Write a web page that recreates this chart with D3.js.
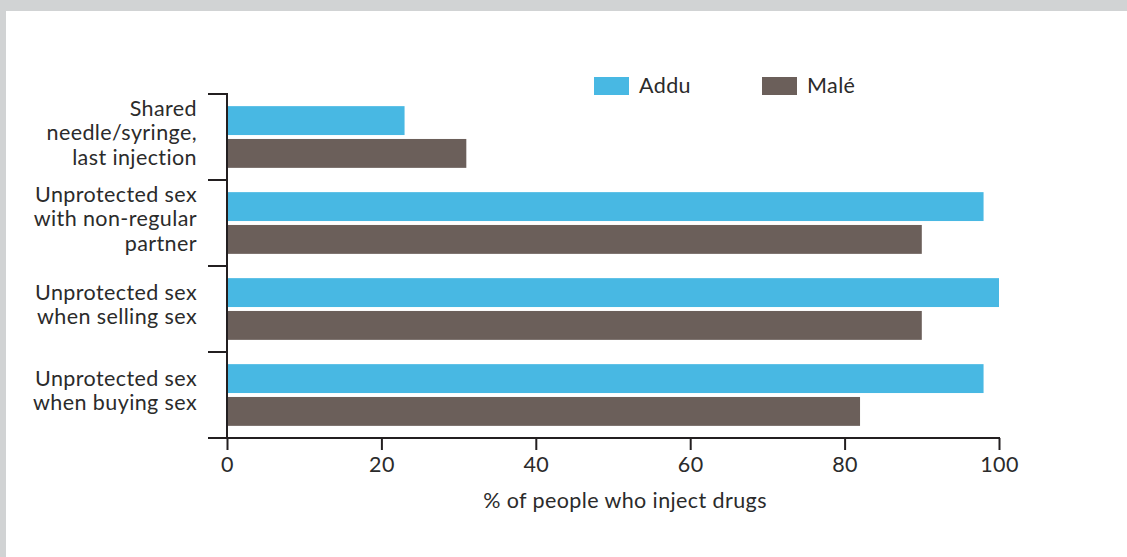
<!DOCTYPE html>
<html>
<head>
<meta charset="utf-8">
<script src="https://cdn.jsdelivr.net/npm/d3@7"></script>
<style>
  body { margin: 0; background: #d1d3d4; }
  svg { display: block; }
  text { font-family: Lato, "Open Sans", sans-serif; fill: #2b2b2b; letter-spacing: 0.4px; }
</style>
</head>
<body>
<div id="chart-container"></div>
<script>
const categories = [
  ["Shared", "needle/syringe,", "last injection"],
  ["Unprotected sex", "with non-regular", "partner"],
  ["Unprotected sex", "when selling sex"],
  ["Unprotected sex", "when buying sex"],
];
const seriesNames = ["Addu", "Malé"];
const addu = [23, 98, 100, 98];
const male = [31, 90, 90, 82];
const xTicks = [0, 20, 40, 60, 80, 100];
const colors = ["#48b8e3", "#6b5f5a"];

const width = 1127;
const height = 557;
const axisColor = "#231f20";
const fontSize = "21.5px";

const svg = d3
  .select("#chart-container")
  .append("svg")
  .attr("width", width)
  .attr("height", height);

// white panel over grey frame
svg
  .append("rect")
  .attr("x", 6)
  .attr("y", 11)
  .attr("width", width - 6)
  .attr("height", height - 11)
  .attr("fill", "#ffffff");

const xScale = d3.scaleLinear().domain([0, 100]).range([227, 999]);
const yScale = d3
  .scaleBand()
  .domain(d3.range(categories.length))
  .range([94, 438]);
const inner = d3
  .scaleBand()
  .domain([0, 1])
  .range([0, yScale.bandwidth()])
  .paddingInner(0.12)
  .paddingOuter(0.37);

const rows = categories.map((c, i) => ({ i, values: [addu[i], male[i]] }));

const groups = svg
  .selectAll(".group")
  .data(rows)
  .enter()
  .append("g")
  .attr("class", "group")
  .attr("transform", (d) => `translate(0,${yScale(d.i)})`);

groups
  .selectAll("rect")
  .data((d) => d.values.map((v, s) => ({ v, s })))
  .enter()
  .append("rect")
  .attr("x", xScale(0))
  .attr("y", (d) => inner(d.s))
  .attr("width", (d) => xScale(d.v) - xScale(0))
  .attr("height", inner.bandwidth())
  .attr("fill", (d) => colors[d.s]);

// x axis
const xAxis = d3
  .axisBottom(xScale)
  .tickValues(xTicks)
  .tickSize(12)
  .tickPadding(7)
  .tickFormat(d3.format("d"));

const xAxisGroup = svg
  .append("g")
  .attr("transform", `translate(0,438)`)
  .call(xAxis);
xAxisGroup.select(".domain").remove();
xAxisGroup.selectAll(".tick line").attr("stroke", axisColor).attr("stroke-width", 2);
xAxisGroup
  .selectAll(".tick text")
  .style("font-size", fontSize)
  .style("font-family", "Lato, 'Open Sans', sans-serif")
  .attr("fill", "#2b2b2b");

svg
  .append("line")
  .attr("x1", 208)
  .attr("x2", xScale(100) + 1)
  .attr("y1", 438)
  .attr("y2", 438)
  .attr("stroke", axisColor)
  .attr("stroke-width", 2);

// y axis with ticks between categories
const yEdges = d3.range(categories.length).map((i) => yScale(i)).concat([438]);
svg
  .append("line")
  .attr("x1", xScale(0))
  .attr("x2", xScale(0))
  .attr("y1", yEdges[0] - 1)
  .attr("y2", 438)
  .attr("stroke", axisColor)
  .attr("stroke-width", 2);

svg
  .selectAll(".ytick")
  .data(yEdges.slice(0, -1))
  .enter()
  .append("line")
  .attr("class", "ytick")
  .attr("x1", 208)
  .attr("x2", xScale(0))
  .attr("y1", (d) => d)
  .attr("y2", (d) => d)
  .attr("stroke", axisColor)
  .attr("stroke-width", 2);

// category labels
const labels = svg
  .selectAll(".cat")
  .data(categories)
  .enter()
  .append("text")
  .attr("class", "cat")
  .attr("text-anchor", "end")
  .style("font-size", fontSize)
  .attr("transform", (d, i) => {
    const mid = yScale(i) + yScale.bandwidth() / 2;
    const top = mid - ((d.length - 1) * 24.5) / 2 + 3;
    return `translate(197,${top})`;
  });

labels
  .selectAll("tspan")
  .data((d) => d)
  .enter()
  .append("tspan")
  .attr("x", 0)
  .attr("dy", (d, j) => (j === 0 ? 0 : 24.5))
  .text((d) => d);

// legend
const legend = svg
  .selectAll(".legend")
  .data(seriesNames)
  .enter()
  .append("g")
  .attr("class", "legend")
  .attr("transform", (d, i) => `translate(${594 + i * 168},77)`);

legend
  .append("rect")
  .attr("width", 35)
  .attr("height", 18)
  .attr("fill", (d, i) => colors[i]);

legend
  .append("text")
  .attr("x", 45)
  .attr("y", 16)
  .style("font-size", fontSize)
  .text((d) => d);

// axis title
svg
  .append("text")
  .attr("x", 625)
  .attr("y", 508)
  .attr("text-anchor", "middle")
  .style("font-size", fontSize)
  .text("% of people who inject drugs");
</script>
</body>
</html>
